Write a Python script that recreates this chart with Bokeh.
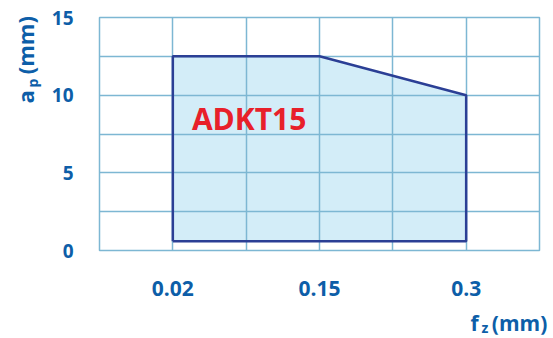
from bokeh.plotting import figure
from bokeh.models import Range1d, FixedTicker, Label
from bokeh.core.properties import value
from bokeh.embed import file_html
from bokeh.resources import INLINE
import math

# Data
fz_ticks = ["0.02", "0.15", "0.3"]
fz_tick_pos = [1, 3, 5]
ap_ticks = [0, 5, 10, 15]
region_fz = ["0.02", "0.02", "0.15", "0.3", "0.3"]
region_ap = [0.6, 12.5, 12.5, 10.0, 0.6]
region_name = "ADKT15"

pos = dict(zip(fz_ticks, fz_tick_pos))
xs = [pos[v] for v in region_fz]
ys = region_ap

BLUE = "#0d5ea8"
GRID = "#7db7d3"
FILL = "#d3edf8"
EDGE = "#2b3f95"
RED = "#e8202a"
FONT = "Open Sans"

p = figure(width=553, height=338, output_backend="svg", toolbar_location=None,
           x_range=Range1d(0, 6), y_range=Range1d(0, 15),
           min_border_left=99, min_border_right=14, min_border_top=17, min_border_bottom=88)
p.background_fill_color = "white"
p.border_fill_color = "white"
p.outline_line_color = GRID
p.outline_line_width = 1.5

p.xgrid.ticker = FixedTicker(ticks=[0, 1, 2, 3, 4, 5, 6])
p.ygrid.ticker = FixedTicker(ticks=[0, 2.5, 5, 7.5, 10, 12.5, 15])
for g in (p.xgrid, p.ygrid):
    g.grid_line_color = GRID
    g.grid_line_width = 1.5
    g.grid_line_alpha = 1.0

# fill under the grid, outline above
p.patch(xs, ys, fill_color=FILL, line_color=None, level="image")
p.line(xs + [xs[0]], ys + [ys[0]], line_color=EDGE, line_width=2.5)

p.xaxis.ticker = FixedTicker(ticks=fz_tick_pos)
p.xaxis.major_label_overrides = {k: v for k, v in zip(fz_tick_pos, fz_ticks)}
p.yaxis.ticker = FixedTicker(ticks=ap_ticks)
for ax in (p.xaxis, p.yaxis):
    ax.axis_line_color = None
    ax.major_tick_line_color = None
    ax.minor_tick_line_color = None
    ax.major_tick_out = 0
    ax.major_tick_in = 0
    ax.major_label_text_font = FONT
    ax.major_label_text_font_style = "bold"
    ax.major_label_text_color = BLUE
p.xaxis.major_label_text_font_size = "21px"
p.yaxis.major_label_text_font_size = "19px"
p.xaxis.major_label_standoff = 30
p.yaxis.major_label_standoff = 26

p.add_layout(Label(x=1.26, y=8.5, text=region_name, text_font=FONT, text_font_style="bold",
                   text_font_size="30px", text_color=RED, text_baseline="middle", text_align="left"))

def lab(x, y, t, size, angle=0.0):
    p.text(x=[x], y=[y], text=[t], angle=angle, text_font=value(FONT), text_font_style="bold",
           text_font_size=value(size), text_color=BLUE, text_align="left",
           text_baseline="alphabetic", level="overlay")

# y axis label a_p (mm), rotated
lab(-1.01, 9.46, "a", "22px", math.pi / 2)
lab(-0.91, 10.5, "p", "14px", math.pi / 2)
lab(-1.01, 11.35, "(mm)", "22px", math.pi / 2)

# x axis label f_z (mm)
lab(5.06, -4.64, "f", "21px")
lab(5.21, -4.96, "z", "14px")
lab(5.35, -4.64, "(mm)", "21px")

open("out.html", "w").write(file_html(p, INLINE))
